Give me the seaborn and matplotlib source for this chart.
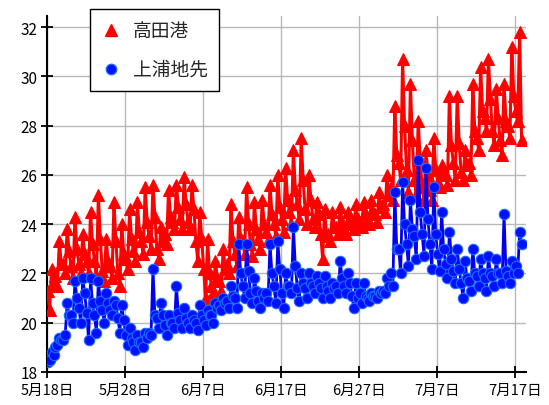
import matplotlib
matplotlib.use("Agg")
import matplotlib.pyplot as plt
from matplotlib.lines import Line2D
import seaborn as sns
import pandas as pd

# ---- data (4 readings per day, 6-hourly, from 5/18 02:00) ----
series_names = ["高田港", "上浦地先"]
start_time = "2013-05-18 02:00"

takata_temp = [
    21.3, 20.5, 22.2, 21.6,  21.9, 21.5, 23.3, 22.4,
    22.4, 22.0, 23.8, 22.9,  22.3, 21.8, 24.3, 23.0,
    22.4, 22.0, 23.6, 22.8,  22.5, 22.0, 24.5, 23.2,
    22.5, 21.8, 25.2, 23.4,  22.1, 21.7, 23.4, 22.5,
    22.3, 21.8, 24.9, 23.3,  22.0, 21.5, 24.0, 22.8,
    22.6, 22.2, 24.6, 23.4,  22.9, 22.5, 24.9, 23.7,
    23.3, 22.8, 25.5, 24.1,  23.5, 23.0, 25.6, 24.3,
    23.0, 22.6, 23.9, 23.3,  23.6, 23.2, 25.4, 24.3,
    24.1, 23.8, 25.6, 24.7,  24.2, 23.8, 25.9, 24.8,
    24.1, 23.8, 25.6, 24.6,  23.3, 22.5, 24.5, 23.4,
    22.2, 21.0, 23.4, 22.0,  21.5, 21.2, 22.5, 21.8,
    21.7, 21.3, 23.0, 22.2,  22.4, 22.0, 24.8, 23.3,
    22.8, 22.3, 24.3, 23.4,  23.3, 22.8, 25.5, 24.0,
    23.2, 22.7, 24.9, 23.8,  23.4, 23.0, 25.0, 24.0,
    23.7, 23.3, 25.6, 24.4,  24.0, 23.5, 26.0, 24.7,
    24.2, 23.7, 26.3, 25.0,  24.5, 24.0, 27.0, 25.4,
    24.8, 24.2, 27.5, 25.8,  24.6, 24.0, 26.0, 25.0,
    24.2, 23.9, 24.9, 24.4,  23.6, 22.6, 24.6, 23.5,
    23.6, 23.3, 24.5, 23.9,  23.9, 23.6, 24.7, 24.1,
    23.8, 23.6, 24.5, 24.0,  24.0, 23.8, 24.8, 24.2,
    24.1, 23.9, 24.9, 24.4,  24.2, 24.0, 25.0, 24.5,
    24.4, 24.1, 25.3, 24.7,  24.8, 24.5, 26.0, 25.2,
    25.5, 25.0, 28.8, 26.8,  26.5, 25.8, 30.7, 28.0,
    26.2, 25.3, 29.7, 27.4,  25.8, 25.2, 28.2, 26.6,
    25.5, 25.0, 27.0, 26.0,  25.4, 25.0, 27.5, 26.2,
    25.7, 25.5, 26.4, 26.0,  26.0, 25.6, 29.2, 27.2,
    26.5, 25.8, 29.2, 27.3,  26.1, 25.8, 27.0, 26.4,
    26.5, 26.0, 29.7, 27.8,  27.5, 27.0, 30.4, 28.6,
    28.3, 27.8, 30.7, 29.1,  27.8, 27.2, 29.5, 28.3,
    27.4, 26.8, 29.7, 28.2,  28.0, 27.5, 31.2, 29.2,
    28.6, 28.2, 31.8, 27.4,
]

kamiura_temp = [
    18.4, 18.5, 18.8, 18.7,  19.0, 19.1, 19.4, 19.3,
    19.3, 19.5, 20.8, 20.3,  20.3, 20.0, 21.7, 21.0,
    20.6, 20.0, 21.8, 21.2,  20.4, 19.3, 21.8, 20.8,
    20.3, 19.6, 21.7, 20.9,  20.5, 20.0, 21.2, 20.8,
    20.5, 20.3, 20.9, 20.7,  20.2, 19.6, 20.7, 20.1,
    19.5, 19.1, 19.8, 19.4,  19.2, 18.9, 19.5, 19.2,
    19.2, 19.0, 19.6, 19.4,  19.6, 19.5, 22.2, 20.3,
    20.2, 19.8, 20.8, 20.3,  19.9, 19.5, 20.3, 20.0,
    20.0, 19.8, 21.5, 20.4,  20.1, 19.8, 20.6, 20.2,
    20.0, 19.8, 20.3, 20.1,  20.0, 19.7, 20.7, 20.3,
    20.1, 19.9, 20.5, 20.3,  20.3, 20.0, 20.8, 20.6,
    20.7, 20.5, 21.0, 20.8,  20.9, 20.6, 21.5, 21.1,
    21.0, 20.6, 23.2, 22.0,  21.5, 21.0, 23.2, 22.1,
    21.2, 20.8, 21.8, 21.3,  20.9, 20.6, 21.2, 21.0,
    21.2, 20.9, 23.2, 22.0,  21.5, 20.8, 23.3, 22.2,
    21.2, 20.6, 22.0, 21.5,  21.5, 21.2, 23.9, 22.3,
    21.4, 20.9, 22.0, 21.6,  21.4, 21.0, 22.0, 21.6,
    21.5, 21.2, 21.9, 21.6,  21.4, 21.0, 21.9, 21.5,
    21.3, 21.0, 21.6, 21.4,  21.5, 21.2, 22.5, 21.8,
    21.5, 21.2, 22.0, 21.6,  21.1, 20.6, 21.6, 21.0,
    21.2, 20.8, 21.6, 21.1,  21.0, 20.9, 21.2, 21.1,
    21.1, 21.0, 21.3, 21.2,  21.3, 21.2, 21.8, 21.5,
    22.0, 21.5, 25.3, 23.0,  23.0, 22.0, 25.7, 24.0,
    23.2, 22.3, 25.0, 23.8,  23.5, 22.6, 26.6, 24.5,
    23.6, 22.7, 26.3, 24.2,  23.2, 22.2, 25.5, 23.6,
    22.8, 22.1, 24.5, 23.0,  22.4, 21.8, 23.7, 22.6,
    22.1, 21.6, 23.0, 22.2,  21.6, 21.0, 22.5, 21.8,
    21.7, 21.3, 23.0, 22.0,  21.9, 21.5, 22.6, 22.0,
    21.8, 21.3, 22.7, 22.0,  21.9, 21.5, 22.6, 22.0,
    22.0, 21.6, 24.4, 22.1,  21.9, 21.6, 22.5, 22.0,
    22.3, 22.0, 23.7, 23.2,
]

tick_dates = ["2013-05-18", "2013-05-28", "2013-06-07", "2013-06-17",
              "2013-06-27", "2013-07-07", "2013-07-17"]
tick_labels = ["5月18日", "5月28日", "6月7日", "6月17日", "6月27日", "7月7日", "7月17日"]
y_ticks = [18, 20, 22, 24, 26, 28, 30, 32]

# ---- figure ----
sns.set_theme(style="ticks")
plt.rcParams["font.family"] = ["Noto Sans CJK JP", "DejaVu Sans"]

fig, ax = plt.subplots(figsize=(5.49, 4.06), dpi=100)
fig.subplots_adjust(left=47/549, right=526/549, bottom=33/406, top=389/406)

times_r = pd.date_range(start_time, periods=len(takata_temp), freq="6h")
times_k = pd.date_range(start_time, periods=len(kamiura_temp), freq="6h")
df_r = pd.DataFrame({"time": times_r, "temp": takata_temp})
df_k = pd.DataFrame({"time": times_k, "temp": kamiura_temp})

sns.lineplot(data=df_r, x="time", y="temp", ax=ax, color="#ff0000",
             marker="^", markersize=8.5, markeredgecolor="#ff0000",
             linewidth=2.2, estimator=None, legend=False, zorder=3)
sns.lineplot(data=df_k, x="time", y="temp", ax=ax, color="#0000f0",
             marker="o", markersize=7.5, markerfacecolor="#0010ff",
             markeredgecolor="#1c6cff", markeredgewidth=0.8,
             linewidth=2.0, estimator=None, legend=False, zorder=4)

x0 = pd.Timestamp("2013-05-18")
ax.set_xlim(x0, x0 + pd.Timedelta(days=61.4))
ax.set_ylim(18, 32.45)
ax.set_yticks(y_ticks)
ax.set_yticklabels([str(v) for v in y_ticks])
ax.set_xticks(pd.to_datetime(tick_dates))
ax.set_xticklabels(tick_labels)
ax.set_xlabel("")
ax.set_ylabel("")

ax.grid(True, color="#b8b8b8", linewidth=1.0)
ax.set_axisbelow(True)
for s in ["top", "right"]:
    ax.spines[s].set_visible(False)
for s in ["left", "bottom"]:
    ax.spines[s].set_color("black")
    ax.spines[s].set_linewidth(1.5)
ax.tick_params(direction="inout", length=8, width=1.3, colors="black")
ax.tick_params(axis="x", labelsize=10.5, pad=4)
ax.tick_params(axis="y", labelsize=11, pad=3)

handles = [
    Line2D([], [], linestyle="none", marker="^", markersize=8,
           color="#ff0000", markeredgecolor="#ff0000"),
    Line2D([], [], linestyle="none", marker="o", markersize=7.5,
           markerfacecolor="#0010ff", markeredgecolor="#1c6cff"),
]
leg = fig.legend(handles, series_names, loc="upper left",
                 bbox_to_anchor=(90/549, 1 - 10/406), bbox_transform=fig.transFigure,
                 borderaxespad=0.0,
                 fontsize=13.5, frameon=True, fancybox=False, shadow=False,
                 borderpad=0.6, labelspacing=0.95, handlelength=1.0,
                 handletextpad=0.7)
leg.get_frame().set_edgecolor("black")
leg.get_frame().set_linewidth(1.0)
leg.get_frame().set_alpha(1.0)

fig.savefig("out.png", dpi=100)
